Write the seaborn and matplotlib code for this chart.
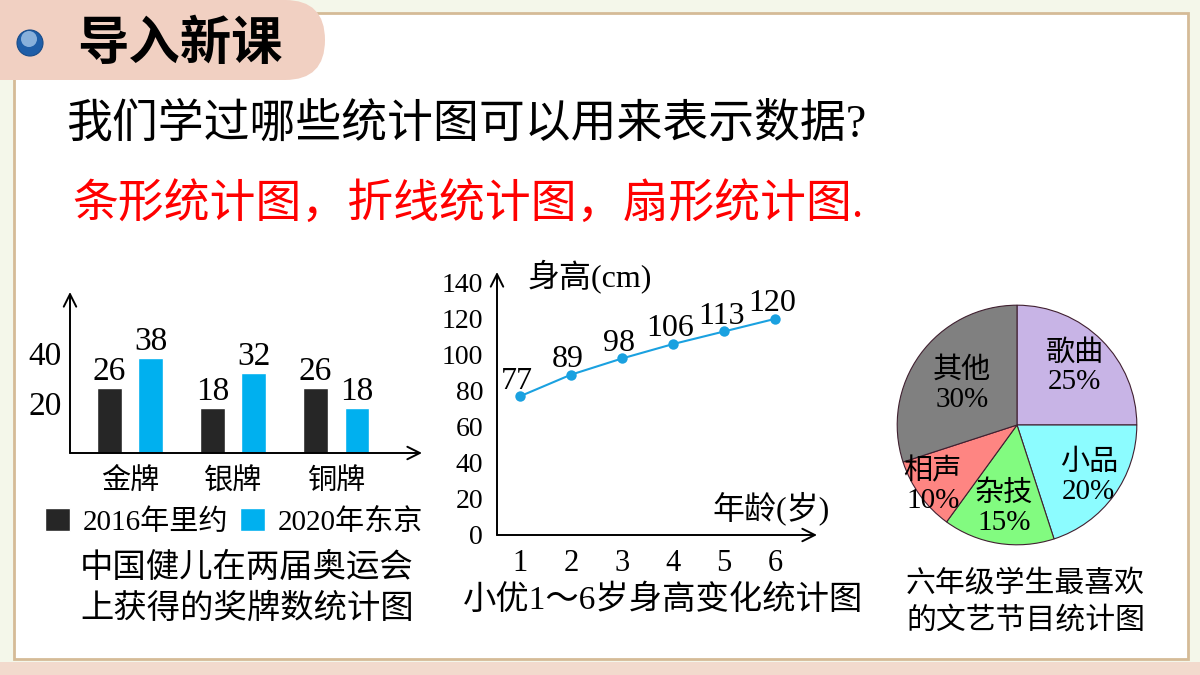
import numpy as np
import pandas as pd
import matplotlib
matplotlib.use('Agg')
import matplotlib.pyplot as plt
from matplotlib.patches import Rectangle, FancyBboxPatch, Circle
from matplotlib.font_manager import FontProperties
import seaborn as sns

# bar chart: medals of China at two Olympics
medals = ['金牌', '银牌', '铜牌']
games = ['2016年里约', '2020年东京']
rio_2016 = [26, 18, 26]
tokyo_2020 = [38, 32, 18]
bar_yticks = [20, 40]

# line chart: height of 小优 from 1 to 6
ages = [1, 2, 3, 4, 5, 6]
heights = [77, 89, 98, 106, 113, 120]
line_yticks = [0, 20, 40, 60, 80, 100, 120, 140]

# pie chart: favourite shows
shows = ['歌曲', '小品', '杂技', '相声', '其他']
share = [25, 20, 15, 10, 30]

sns.set_style('white')
plt.rcParams['font.family'] = ['Noto Sans CJK SC', 'DejaVu Sans']
plt.rcParams['text.color'] = 'black'
plt.rcParams['xtick.color'] = 'black'
plt.rcParams['ytick.color'] = 'black'
SERIF = ['Liberation Serif', 'Noto Sans CJK SC', 'DejaVu Sans']

W, H = 1200, 675
fig = plt.figure(figsize=(12, 6.75), dpi=100, facecolor='#f4f7ea')


def box(x0, y0, x1, y1):
    # pixel box (top-left origin) -> figure fraction
    return [x0 / W, 1 - y1 / H, (x1 - x0) / W, (y1 - y0) / H]


def arrow_axes(ax):
    for s in ax.spines.values():
        s.set_visible(False)
    kw = dict(arrowstyle='->,head_length=0.5,head_width=0.25', lw=1.4,
              color='black', mutation_scale=18, shrinkA=0, shrinkB=0)
    ax.annotate('', xy=(1, 0), xytext=(0, 0), xycoords='axes fraction',
                arrowprops=kw, annotation_clip=False)
    ax.annotate('', xy=(0, 1), xytext=(0, 0), xycoords='axes fraction',
                arrowprops=kw, annotation_clip=False)


# slide background
bg = fig.add_axes([0, 0, 1, 1], zorder=-5)
bg.set_xlim(0, W)
bg.set_ylim(H, 0)
bg.axis('off')
bg.add_patch(Rectangle((0, 662), W, 13, fc='#f2dacd', ec='none'))
bg.add_patch(Rectangle((14, 13), 1174, 646, fc='white', ec='#d5bb97', lw=2))
bg.add_patch(FancyBboxPatch((-40, 0), 365, 80, boxstyle='round,pad=0,rounding_size=40',
                            fc='#f1d0c2', ec='none'))
bg.add_patch(Circle((30, 43), 13, fc='#1f5ea8', ec='#184c8a', lw=0.8))
bg.add_patch(Circle((29, 39), 8, fc='#b6d4f2', ec='none', alpha=0.7))

bg.text(77, 44, '导入新课', fontsize=37, fontweight='bold', va='center')
bg.text(66, 125, '我们学过哪些统计图可以用来表示数据?', fontsize=33, va='center', family=SERIF)
bg.text(72, 205, '条形统计图，折线统计图，扇形统计图.', fontsize=33, va='center',
        color='#ff0000', family=SERIF)

# ---- bar chart
df_bar = pd.DataFrame({'medal': medals * 2,
                       'count': rio_2016 + tokyo_2020,
                       'games': [games[0]] * 3 + [games[1]] * 3})
ax1 = fig.add_axes(box(70, 292, 422, 453))
sns.barplot(data=df_bar, x='medal', y='count', hue='games',
            palette=['#262626', '#00b0ef'], width=0.8, gap=0.4,
            saturation=1, legend=False, ax=ax1)
ax1.set_xlim(-0.58, 2.83)
ax1.set_ylim(0, 64.4)
ax1.set_xlabel('')
ax1.set_ylabel('')
ax1.set_facecolor('none')
ax1.set_yticks(bar_yticks)
ax1.set_yticklabels([str(v) for v in bar_yticks], family=SERIF, fontsize=24)
for t in ax1.get_xticklabels():
    t.set_fontsize(21)
ax1.tick_params(axis='y', length=0, pad=6)
ax1.tick_params(axis='x', length=0, pad=9)
arrow_axes(ax1)
for c in ax1.containers:
    ax1.bar_label(c, fontsize=24, family=SERIF, padding=1)
ax1.legend(ax1.containers, games, loc='upper left',
           bbox_to_anchor=(45 / W, 1 - 508 / H), bbox_transform=fig.transFigure,
           ncol=2, frameon=False, prop=FontProperties(family=SERIF, size=21),
           handlelength=0.85, handleheight=0.85, handletextpad=0.45,
           columnspacing=0.4, borderpad=0, borderaxespad=0)
bg.text(80, 567, '中国健儿在两届奥运会', fontsize=24, va='center')
bg.text(80, 608, '上获得的奖牌数统计图', fontsize=24, va='center')

# ---- line chart
ax2 = fig.add_axes(box(497, 272, 817, 535))
sns.lineplot(x=ages, y=heights, marker='o', color='#1aa1e0', markersize=7.5,
             markeredgewidth=0, linewidth=1.5, ax=ax2)
ax2.set_xlim(0.55, 6.82)
ax2.set_ylim(0, 146)
ax2.set_facecolor('none')
ax2.set_xticks(ages)
ax2.set_xticklabels([str(a) for a in ages], family=SERIF, fontsize=22)
ax2.set_yticks(line_yticks)
ax2.set_yticklabels([str(v) for v in line_yticks], family=SERIF, fontsize=20)
ax2.tick_params(axis='y', length=0, pad=10)
ax2.tick_params(axis='x', length=0, pad=10)
arrow_axes(ax2)
for a, h in zip(ages, heights):
    ax2.annotate(str(h), (a, h), xytext=(-2, 11), textcoords='offset points',
                 ha='center', va='center', fontsize=23, family=SERIF)
bg.text(528, 277, '身高(cm)', fontsize=23, va='center', family=SERIF)
bg.text(712, 508, '年龄(岁)', fontsize=23, va='center', family=SERIF)
bg.text(463, 600, '小优1～6岁身高变化统计图', fontsize=24, va='center', family=SERIF)

# ---- pie chart
ax3 = fig.add_axes(box(896, 304, 1138, 546))
pie_colors = ['#c8b4e6', '#8cfcff', '#82fb80', '#fe8582', '#808080']
wedges, _ = ax3.pie(share, colors=pie_colors, startangle=90, counterclock=False,
                    wedgeprops=dict(edgecolor='#402030', linewidth=0.8))
ax3.set_xlim(-1.01, 1.01)
ax3.set_ylim(-1.01, 1.01)
label_r = [0.68, 0.74, 0.70, 0.87, 0.57]
for w, name, pct, r in zip(wedges, shows, share, label_r):
    ang = np.deg2rad((w.theta1 + w.theta2) / 2)
    ax3.text(r * np.cos(ang), r * np.sin(ang), f'{name}\n{pct}%', ha='center',
             va='center', fontsize=21, family=SERIF, linespacing=1.15)
bg.text(906, 583, '六年级学生最喜欢', fontsize=21.5, va='center')
bg.text(906, 620, '的文艺节目统计图', fontsize=21.5, va='center')

fig.savefig('out.png', dpi=100, facecolor=fig.get_facecolor())
